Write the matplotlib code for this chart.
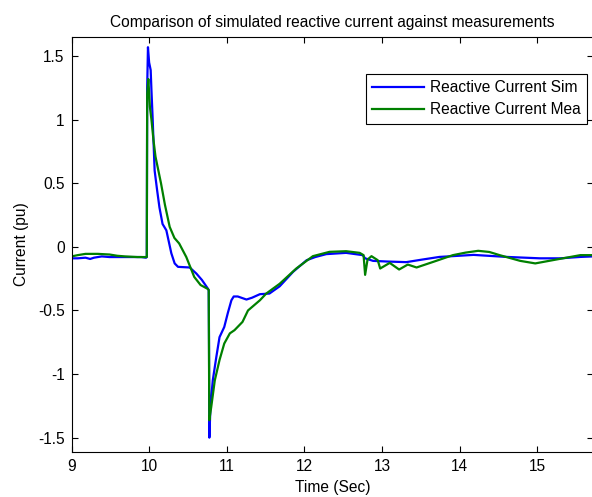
import numpy as np
import matplotlib
matplotlib.use('Agg')
import matplotlib.pyplot as plt

plt.rcParams['font.family'] = ['Liberation Sans', 'DejaVu Sans']

# Simulated reactive current
t_sim = [9.0, 9.08, 9.18, 9.24, 9.29, 9.39, 9.49, 9.59, 9.69, 9.80, 9.90, 9.96,
         9.97, 9.975, 9.985, 10.0, 10.02, 10.03, 10.046, 10.051, 10.071, 10.102,
         10.133, 10.173, 10.222, 10.286, 10.329, 10.372, 10.46, 10.523, 10.609,
         10.68, 10.759, 10.768, 10.772, 10.776, 10.79, 10.82, 10.866, 10.907,
         10.968, 11.014, 11.06, 11.09, 11.142, 11.254, 11.325, 11.427, 11.55,
         11.682, 11.855, 12.029, 12.14, 12.283, 12.538, 12.752, 12.783, 12.885,
         13.058, 13.313, 13.517, 13.741, 14.18, 14.608, 15.036, 15.30, 15.556,
         15.72]
i_sim = [-0.09, -0.09, -0.085, -0.095, -0.085, -0.075, -0.08, -0.08, -0.08,
         -0.08, -0.08, -0.085, -0.08, 1.25, 1.57, 1.45, 1.39, 1.23, 1.0, 0.917,
         0.6, 0.45, 0.31, 0.18, 0.13, -0.05, -0.13, -0.157, -0.16, -0.162,
         -0.21, -0.26, -0.33, -0.34, -0.8, -1.5, -1.26, -1.05, -0.865, -0.71,
         -0.63, -0.52, -0.42, -0.39, -0.39, -0.414, -0.4, -0.372, -0.367, -0.31,
         -0.196, -0.105, -0.08, -0.057, -0.047, -0.065, -0.09, -0.11, -0.115,
         -0.12, -0.1, -0.079, -0.063, -0.079, -0.09, -0.09, -0.079, -0.075]

# Measured reactive current
t_mea = [9.0, 9.08, 9.18, 9.34, 9.49, 9.59, 9.69, 9.85, 9.97, 9.975, 9.99,
         10.01, 10.03, 10.056, 10.082, 10.092, 10.153, 10.204, 10.265, 10.326,
         10.387, 10.479, 10.581, 10.663, 10.754, 10.768, 10.775, 10.80, 10.846,
         10.907, 10.968, 11.04, 11.10, 11.203, 11.274, 11.427, 11.509, 11.682,
         11.896, 12.11, 12.324, 12.538, 12.712, 12.763, 12.783, 12.814, 12.865,
         12.946, 12.977, 13.10, 13.221, 13.333, 13.446, 13.66, 13.914, 14.078,
         14.24, 14.383, 14.516, 14.781, 14.975, 15.25, 15.556, 15.72]
i_mea = [-0.075, -0.065, -0.055, -0.055, -0.06, -0.07, -0.075, -0.08, -0.08,
         1.2, 1.32, 1.10, 1.0, 0.84, 0.71, 0.68, 0.50, 0.33, 0.157, 0.07,
         0.027, -0.08, -0.236, -0.3, -0.33, -0.34, -1.363, -1.26, -1.05, -0.89,
         -0.76, -0.68, -0.655, -0.59, -0.50, -0.42, -0.367, -0.29, -0.17,
         -0.073, -0.039, -0.034, -0.047, -0.065, -0.22, -0.10, -0.073, -0.105,
         -0.17, -0.126, -0.178, -0.139, -0.162, -0.118, -0.065, -0.045, -0.031,
         -0.04, -0.065, -0.11, -0.13, -0.099, -0.065, -0.065]

xticks = [9, 10, 11, 12, 13, 14, 15]
yticks = [-1.5, -1, -0.5, 0, 0.5, 1, 1.5]
ytick_labels = ['-1.5', '-1', '-0.5', '0', '0.5', '1', '1.5']

fs = 11.2

fig = plt.figure(figsize=(5.92, 4.97), dpi=100)
ax = fig.add_axes([0.1208, 0.09, 0.881, 0.836])

ax.plot(t_sim, i_sim, color='#0000ff', linewidth=1.6, label='Reactive Current Sim')
ax.plot(t_mea, i_mea, color='#008000', linewidth=1.6, label='Reactive Current Mea')

ax.set_xlim(9, 15.72)
ax.set_ylim(-1.615, 1.652)
ax.set_xticks(xticks)
ax.set_yticks(yticks)
ax.set_yticklabels(ytick_labels)
ax.tick_params(direction='in', top=True, right=True, length=4, labelsize=fs, pad=5)
for s in ax.spines.values():
    s.set_linewidth(0.8)

ax.set_xlabel('Time (Sec)', fontsize=fs, labelpad=4)
ax.set_ylabel('Current (pu)', fontsize=fs, labelpad=6)
ax.set_title('Comparison of simulated reactive current against measurements',
             fontsize=fs, pad=7)

# legend box: right edge ~588 px, top ~74 px
leg = ax.legend(loc='upper right', bbox_to_anchor=(0.988, 0.91), fancybox=False,
                edgecolor='black', framealpha=1, fontsize=fs, handlelength=3.3,
                handletextpad=0.4, borderpad=0.4, labelspacing=0.45,
                borderaxespad=0)
leg.get_frame().set_linewidth(0.8)

fig.savefig('out.png', dpi=100)
